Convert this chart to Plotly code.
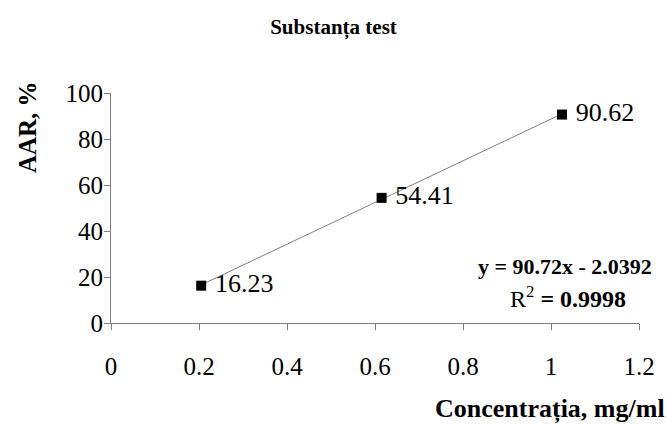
import numpy as np
import plotly.graph_objects as go

conc = [0.205, 0.615, 1.025]
aar = [16.23, 54.41, 90.62]
point_labels = ["16.23", "54.41", "90.62"]
x_ticks = [0, 0.2, 0.4, 0.6, 0.8, 1, 1.2]
x_tick_text = ["0", "0.2", "0.4", "0.6", "0.8", "1", "1.2"]
y_ticks = [0, 20, 40, 60, 80, 100]

slope, intercept = np.polyfit(conc, aar, 1)
fit_x = [conc[0], conc[-1]]
fit_y = [slope * v + intercept for v in fit_x]
pred = np.polyval([slope, intercept], conc)
r2 = 1 - np.sum((np.array(aar) - pred) ** 2) / np.sum((np.array(aar) - np.mean(aar)) ** 2)

FONT = "Liberation Serif"

fig = go.Figure()
fig.add_trace(go.Scatter(x=fit_x, y=fit_y, mode="lines",
                         line=dict(color="#808080", width=1), showlegend=False, hoverinfo="skip"))
fig.add_trace(go.Scatter(x=conc, y=aar, mode="markers+text",
                         marker=dict(symbol="square", size=10, color="black"),
                         text=[" " + t for t in point_labels], textposition="middle right",
                         textfont=dict(family=FONT, size=26, color="black"),
                         showlegend=False))

fig.update_layout(
    width=667, height=424,
    margin=dict(l=111, r=13, t=93, b=101),
    paper_bgcolor="white", plot_bgcolor="white",
    font=dict(family=FONT, color="black"),
    title=dict(text="<b>Substanța test</b>", x=0.5, xanchor="center", y=0.936, yanchor="middle",
               font=dict(family=FONT, size=21, color="black")),
    xaxis=dict(range=[0, 1.2], tickvals=x_ticks, ticktext=x_tick_text,
               showline=True, linecolor="#808080", linewidth=1,
               ticks="outside", ticklen=6, tickcolor="#808080",
               showgrid=False, zeroline=False, ticklabelstandoff=15,
               ticklabeloverflow="allow",
               tickfont=dict(family=FONT, size=25, color="black")),
    yaxis=dict(range=[0, 100], tickvals=y_ticks,
               showline=True, linecolor="#808080", linewidth=1,
               ticks="outside", ticklen=6, tickcolor="#808080",
               showgrid=False, zeroline=False, ticklabeloverflow="allow",
               ticklabelstandoff=-4,
               tickfont=dict(family=FONT, size=25, color="black")),
)

fig.add_annotation(text="<b>AAR, %</b>", xref="paper", yref="paper", x=-0.158, y=0.85,
                   textangle=-90, showarrow=False, xanchor="center", yanchor="middle",
                   font=dict(family=FONT, size=25, color="black"))
fig.add_annotation(text="<b>Concentrația, mg/ml</b>", xref="paper", yref="paper", x=1.053, y=-0.375,
                   showarrow=False, xanchor="right", yanchor="middle",
                   font=dict(family=FONT, size=26, color="black"))
fig.add_annotation(text="<b>y = %.2fx - %.4f</b>" % (slope, -intercept), xref="paper", yref="paper",
                   x=0.86, y=0.246, showarrow=False, xanchor="center", yanchor="middle",
                   font=dict(family=FONT, size=22, color="black"))
fig.add_annotation(text="R<sup>2</sup> <b>= %.4f</b>" % r2, xref="paper", yref="paper",
                   x=0.866, y=0.115, showarrow=False, xanchor="center", yanchor="middle",
                   font=dict(family=FONT, size=24, color="black"))

fig.write_html("out.html")
